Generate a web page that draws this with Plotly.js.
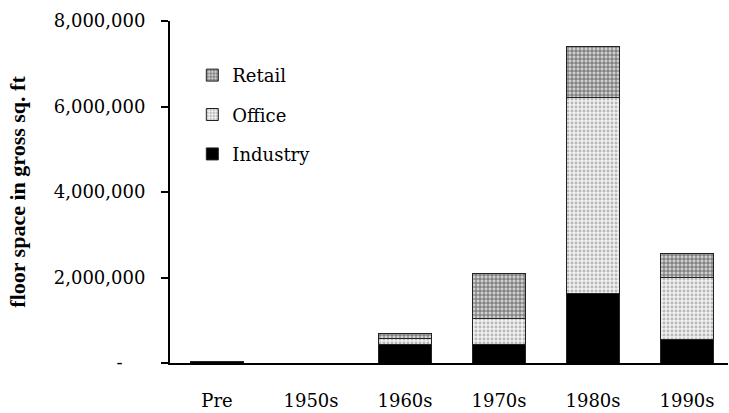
<!DOCTYPE html>
<html>
<head>
<meta charset="utf-8">
<script src="https://cdn.plot.ly/plotly-3.0.1.min.js"></script>
<style>html,body{margin:0;padding:0;background:#fff;}#chart{width:729px;height:413px;}</style>
</head>
<body>
<div id="chart"></div>
<script>
var categories = ["Pre", "1950s", "1960s", "1970s", "1980s", "1990s"];
var industry = [30000, 0, 440000, 440000, 1620000, 540000];
var office   = [0, 0, 140000, 610000, 4600000, 1450000];
var retail   = [0, 0, 100000, 1050000, 1190000, 575000];
var yTickVals = [0, 2000000, 4000000, 6000000, 8000000];
var yTickText = ["-\u00a0\u00a0\u00a0\u00a0", "2,000,000", "4,000,000", "6,000,000", "8,000,000"];

var font = {family: "DejaVu Serif", size: 18, color: "#000"};
var line = {color: "#222", width: 1};

var traces = [
  {type: "bar", name: "Industry", x: categories, y: industry, legendgroup: "a", legendrank: 3,
   marker: {color: "#000", line: line}},
  {type: "bar", name: "Office", x: categories, y: office, legendgroup: "b", legendrank: 2,
   marker: {color: "#fff", line: line,
     pattern: {shape: ".", fgcolor: "#b8b8b8", bgcolor: "#f2f2f2", size: 4, solidity: 0.4, fillmode: "replace"}}},
  {type: "bar", name: "Retail", x: categories, y: retail, legendgroup: "c", legendrank: 1,
   marker: {color: "#fff", line: line,
     pattern: {shape: "+", fgcolor: "#555", bgcolor: "#d0d0d0", size: 4, solidity: 0.35, fillmode: "replace"}}}
];

var layout = {
  width: 729, height: 413,
  margin: {l: 170, r: 1, t: 21, b: 50, pad: 0},
  paper_bgcolor: "#fff", plot_bgcolor: "#fff",
  font: font,
  barmode: "stack",
  bargap: 0.44,
  showlegend: true,
  legend: {x: 0.04, y: 0.895, xanchor: "left", yanchor: "top", font: font,
           traceorder: "grouped", tracegroupgap: 13, bgcolor: "rgba(0,0,0,0)"},
  xaxis: {
    type: "category", range: [-0.5, 5.436],
    showline: true, linecolor: "#000", linewidth: 2,
    ticks: "", showgrid: false, zeroline: false,
    tickfont: font, ticklabelstandoff: 20, fixedrange: true
  },
  yaxis: {
    range: [0, 8000000],
    tickvals: yTickVals, ticktext: yTickText,
    showline: true, linecolor: "#000", linewidth: 2,
    ticks: "outside", ticklen: 7, tickwidth: 2, tickcolor: "#000",
    showgrid: false, zeroline: false,
    tickfont: font, ticklabelstandoff: 12,
    title: {text: "floor space in gross sq. ft", font: {family: "Liberation Serif", size: 22, color: "#000", weight: "bold"}, standoff: 22},
    fixedrange: true
  }
};

Plotly.newPlot("chart", traces, layout, {displayModeBar: false, staticPlot: true});
</script>
</body>
</html>
